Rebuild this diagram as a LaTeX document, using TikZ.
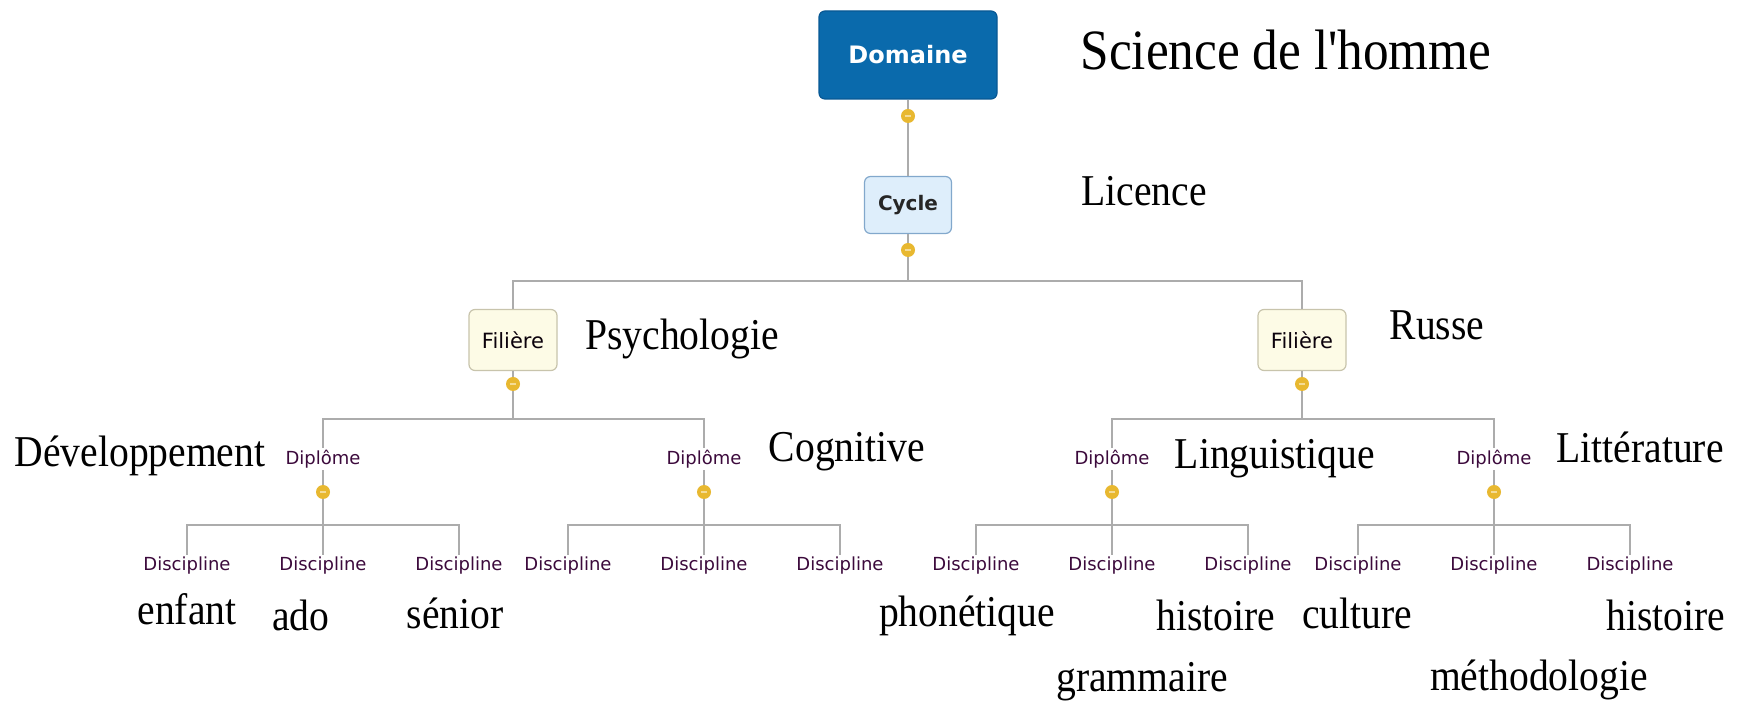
\documentclass[tikz,border=0pt]{standalone}
\usepackage{fontspec}
\setmainfont{Liberation Serif}
\newfontfamily\bigserif[FakeStretch=0.9]{Liberation Serif}
\newfontfamily\uisans{DejaVu Sans}
\usetikzlibrary{shapes.geometric}
\definecolor{domfill}{RGB}{10,106,172}
\definecolor{domedge}{RGB}{8,88,148}
\definecolor{cycfill}{RGB}{222,238,251}
\definecolor{cycedge}{RGB}{130,168,204}
\definecolor{filfill}{RGB}{253,251,230}
\definecolor{filedge}{RGB}{200,196,172}
\definecolor{linegray}{RGB}{172,172,172}
\definecolor{dotgold}{RGB}{232,184,48}
\definecolor{smalltxt}{RGB}{60,10,60}
\tikzset{
  conn/.style={draw=linegray, line width=1.2pt},
  knob/.style={circle, fill=dotgold, inner sep=0pt, minimum size=7pt,
    path picture={\draw[white!50!dotgold, line width=0.8pt]
      ([xshift=-1.7pt]path picture bounding box.center) -- ([xshift=1.7pt]path picture bounding box.center);}},
  dombox/.style={rectangle, rounded corners=3pt, fill=domfill, draw=domedge, line width=0.6pt,
    minimum width=89pt, minimum height=44pt, text=white, font=\uisans\bfseries\fontsize{12pt}{14pt}\selectfont},
  cycbox/.style={rectangle, rounded corners=3pt, fill=cycfill, draw=cycedge, line width=0.6pt,
    minimum width=43.5pt, minimum height=28.5pt, text=black!85, font=\uisans\bfseries\fontsize{10pt}{12pt}\selectfont},
  filbox/.style={rectangle, rounded corners=3pt, fill=filfill, draw=filedge, line width=0.6pt,
    minimum width=44pt, minimum height=30.5pt, text=black!80!smalltxt, font=\uisans\fontsize{10.5pt}{12pt}\selectfont},
  small/.style={inner sep=1pt, text=smalltxt, font=\uisans\fontsize{9pt}{10pt}\selectfont},
  big/.style={inner sep=0pt, text=black, font=\bigserif\fontsize{22pt}{24pt}\selectfont},
}
\begin{document}
\begin{tikzpicture}[x=0.5pt,y=-0.5pt]
\useasboundingbox (0,0) rectangle (1760,704);
\fill[white] (0,0) rectangle (1760,704);

% boxes
\node[dombox] (dom) at (908,55) {Domaine};
\node[cycbox] (cyc) at (908,205) {Cycle};
\node[filbox] (fil1) at (513,340) {Filière};
\node[filbox] (fil2) at (1302,340) {Filière};

% diplomes
\node[small] (dip1) at (323,459) {Diplôme};
\node[small] (dip2) at (704,459) {Diplôme};
\node[small] (dip3) at (1112,459) {Diplôme};
\node[small] (dip4) at (1494,459) {Diplôme};

% disciplines
\foreach \d/\c in {1/323,2/704,3/1112,4/1494}{
  \node[small] (dis\d a) at (\c-136,566) {Discipline};
  \node[small] (dis\d b) at (\c,566) {Discipline};
  \node[small] (dis\d c) at (\c+136,566) {Discipline};
}

% bar coordinates
\coordinate (b0) at (908,281);
\coordinate (b1) at (513,419);
\coordinate (b2) at (1302,419);
\coordinate (c1) at (323,525);
\coordinate (c2) at (704,525);
\coordinate (c3) at (1112,525);
\coordinate (c4) at (1494,525);

% connectors
\draw[conn] (dom.south) -- (cyc.north);
\draw[conn] (cyc.south) -- (b0);
\draw[conn] (b0) -| (fil1.north);
\draw[conn] (b0) -| (fil2.north);
\draw[conn] (fil1.south) -- (b1);
\draw[conn] (b1) -| (dip1.north);
\draw[conn] (b1) -| (dip2.north);
\draw[conn] (fil2.south) -- (b2);
\draw[conn] (b2) -| (dip3.north);
\draw[conn] (b2) -| (dip4.north);
\foreach \d in {1,2,3,4}{
  \draw[conn] (dip\d.south) -- (c\d);
  \draw[conn] (c\d) -| (dis\d a.north);
  \draw[conn] (c\d) -- (dis\d b.north);
  \draw[conn] (c\d) -| (dis\d c.north);
}

% knobs
\node[knob] (k0) at (908,116) {};
\node[knob] (k1) at (908,250) {};
\node[knob] (k2) at (513,384) {};
\node[knob] (k3) at (1302,384) {};
\node[knob] (k4) at (323,492) {};
\node[knob] (k5) at (704,492) {};
\node[knob] (k6) at (1112,492) {};
\node[knob] (k7) at (1494,492) {};

% large labels
\node[big, font=\bigserif\fontsize{28.5pt}{30pt}\selectfont] (tsci) at (1286,50) {Science de l'homme};
\node[big] (tlic) at (1144,191) {Licence};
\node[big] (tpsy) at (682,339) {Psychologie};
\node[big] (trus) at (1437,325) {Russe};
\node[big] (tdev) at (140,456) {Développement};
\node[big] (tcog) at (847,452) {Cognitive};
\node[big] (tlin) at (1275,459) {Linguistique};
\node[big] (tlit) at (1640,447) {Littérature};
\node[big] (tenf) at (187,609) {enfant};
\node[big] (tado) at (301,615) {ado};
\node[big] (tsen) at (455,613) {sénior};
\node[big] (tpho) at (967,616) {phonétique};
\node[big] (this1) at (1216,615) {histoire};
\node[big] (tcul) at (1357,613) {culture};
\node[big] (this2) at (1666,615) {histoire};
\node[big] (tgra) at (1142,682) {grammaire};
\node[big] (tmet) at (1539,680) {méthodologie};
\end{tikzpicture}
\end{document}
